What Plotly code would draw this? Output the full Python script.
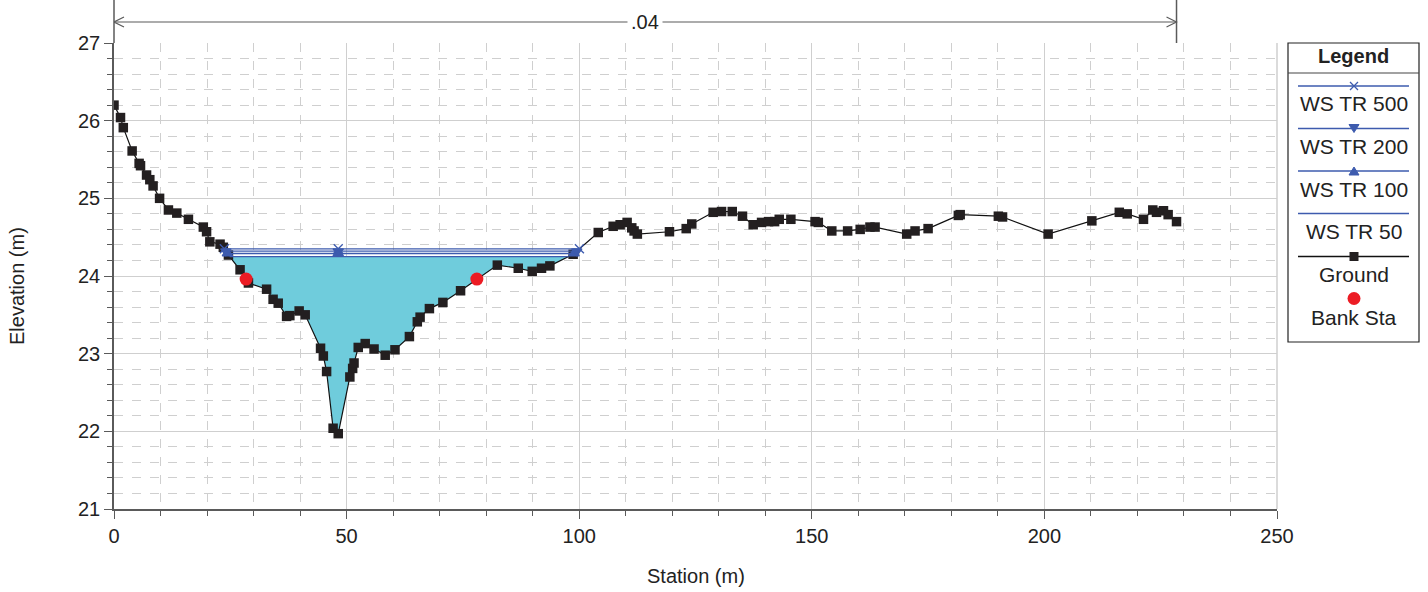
import numpy as np
import plotly.graph_objects as go

# ---------------- data ----------------
ground_x = [0, 1.4, 2.0, 3.9, 5.4, 5.7, 7.0, 7.7, 8.4, 9.8,
            11.7, 13.5, 16.0, 19.2, 19.9, 20.6, 22.8, 23.5, 24.6, 27.1,
            28.9, 32.8, 34.2, 35.3, 37.1, 37.8, 39.8, 41.1, 44.4, 45.0,
            45.7, 47.1, 48.2, 50.7, 51.3, 51.6, 52.5, 54.0, 55.9, 58.3,
            60.4, 63.5, 65.2, 65.8, 67.8, 70.7, 74.5, 82.4, 86.9, 89.9,
            91.9, 93.7, 98.7, 104.1, 107.3, 108.8, 110.3, 111.3, 111.8, 112.5,
            119.4, 123.0, 124.2, 128.8, 130.6, 132.9, 135.1, 137.4, 139.2, 140.7,
            142.0, 143.0, 145.5, 150.7, 151.4, 154.3, 157.7, 160.4, 162.5, 163.6,
            170.4, 172.2, 175.0, 181.5, 181.9, 190.1, 191.0, 200.8, 210.2, 216.1,
            217.8, 221.3, 223.3, 224.1, 225.6, 226.6, 228.4]
ground_y = [26.20, 26.04, 25.91, 25.61, 25.45, 25.42, 25.30, 25.24, 25.16, 25.00,
            24.85, 24.81, 24.73, 24.63, 24.57, 24.44, 24.41, 24.37, 24.27, 24.08,
            23.91, 23.83, 23.70, 23.65, 23.48, 23.49, 23.55, 23.50, 23.07, 22.97,
            22.77, 22.04, 21.97, 22.70, 22.81, 22.88, 23.08, 23.13, 23.06, 22.98,
            23.05, 23.22, 23.41, 23.47, 23.58, 23.66, 23.81, 24.14, 24.10, 24.06,
            24.10, 24.13, 24.28, 24.56, 24.64, 24.66, 24.69, 24.62, 24.58, 24.54,
            24.57, 24.61, 24.67, 24.82, 24.83, 24.83, 24.77, 24.66, 24.69, 24.70,
            24.70, 24.73, 24.73, 24.70, 24.69, 24.58, 24.58, 24.60, 24.63, 24.63,
            24.54, 24.58, 24.61, 24.78, 24.79, 24.77, 24.76, 24.54, 24.71, 24.82,
            24.80, 24.73, 24.85, 24.82, 24.84, 24.79, 24.70]

bank_x = [28.4, 78.0]
bank_y = [23.96, 23.96]

ws_names = ["WS TR 500", "WS TR 200", "WS TR 100", "WS TR 50"]
ws_elev = [24.35, 24.32, 24.29, 24.25]
ws_symbols = ["x-thin-open", "triangle-down", "triangle-up", None]

n_value_label = ".04"

x_ticks = [0, 50, 100, 150, 200, 250]
y_ticks = [21, 22, 23, 24, 25, 26, 27]

# ---------------- helpers ----------------
gx = np.array(ground_x)
gy = np.array(ground_y)
i_min = int(np.argmin(gy))


def crossings(h):
    xl = gx[0]
    for i in range(i_min, 0, -1):
        if gy[i - 1] >= h > gy[i]:
            t = (gy[i - 1] - h) / (gy[i - 1] - gy[i])
            xl = gx[i - 1] + t * (gx[i] - gx[i - 1])
            break
    xr = gx[-1]
    for j in range(i_min, len(gx) - 1):
        if gy[j] < h <= gy[j + 1]:
            t = (h - gy[j]) / (gy[j + 1] - gy[j])
            xr = gx[j] + t * (gx[j + 1] - gx[j])
            break
    return xl, xr


BLUE = "#3D5BAE"
FONT = "Arial, Liberation Sans, sans-serif"

fig = go.Figure()

# water fill (lowest profile)
h50 = ws_elev[-1]
xl50, xr50 = crossings(h50)
mask = (gx > xl50) & (gx < xr50)
fx = [xl50] + list(gx[mask]) + [xr50, xl50]
fy = [h50] + list(gy[mask]) + [h50, h50]
fig.add_trace(go.Scatter(x=fx, y=fy, mode="lines", fill="toself",
                         fillcolor="#6FCCDC", line=dict(width=0),
                         hoverinfo="skip", showlegend=False))

# ground
fig.add_trace(go.Scatter(x=ground_x, y=ground_y, mode="lines+markers", name="Ground",
                         line=dict(color="#111111", width=1.2),
                         marker=dict(symbol="square", size=9.5, color="#231F20"),
                         showlegend=False))

# WS lines (drawn over the ground, lowest last)
for name, h, sym in reversed(list(zip(ws_names, ws_elev, ws_symbols))):
    xl, xr = crossings(h)
    xs = [xl, gx[i_min], xr]
    ys = [h, h, h]
    if sym:
        fig.add_trace(go.Scatter(x=xs, y=ys, mode="lines+markers", name=name,
                                 line=dict(color=BLUE, width=1.3),
                                 marker=dict(symbol=sym, size=9, color=BLUE,
                                             line=dict(color=BLUE, width=1.3)),
                                 showlegend=False))
    else:
        fig.add_trace(go.Scatter(x=xs, y=ys, mode="lines", name=name,
                                 line=dict(color=BLUE, width=1.3),
                                 showlegend=False))

# bank stations
fig.add_trace(go.Scatter(x=bank_x, y=bank_y, mode="markers", name="Bank Sta",
                         marker=dict(symbol="circle", size=13, color="#EC1C24"),
                         showlegend=False))

# ---------------- layout ----------------
W, H = 1428, 592
L, R, T, B = 114, 151, 43, 83
PW, PH = W - L - R, H - T - B


def px(xp):
    return (xp - L) / PW


def py(yp):
    return (H - B - yp) / PH


GRID = "#CFCFCF"
AX = "#5A5A5A"

fig.update_layout(
    width=W, height=H,
    margin=dict(l=L, r=R, t=T, b=B),
    paper_bgcolor="white", plot_bgcolor="white",
    font=dict(family=FONT, color="#222222", size=20),
    xaxis=dict(range=[0, 250], tickvals=x_ticks, ticks="outside", ticklen=8,
               tickcolor=AX, showline=True, linecolor=AX, linewidth=1.5,
               showgrid=True, gridcolor=GRID, gridwidth=1, zeroline=False,
               tickfont=dict(size=20),
               minor=dict(dtick=10, ticks="outside", ticklen=5, tickcolor=AX,
                          showgrid=True, gridcolor=GRID, griddash="dash", gridwidth=1)),
    yaxis=dict(range=[21, 27], tickvals=y_ticks, ticks="outside", ticklen=8,
               tickcolor=AX, showline=True, linecolor=AX, linewidth=1.5,
               showgrid=True, gridcolor=GRID, gridwidth=1, zeroline=False,
               tickfont=dict(size=20),
               minor=dict(dtick=0.2, ticks="outside", ticklen=5, tickcolor=AX,
                          showgrid=True, gridcolor=GRID, griddash="dash", gridwidth=1)),
    showlegend=False,
)

shapes = []
annotations = []

# right plot border (light)
shapes.append(dict(type="line", xref="paper", yref="paper", x0=1, x1=1, y0=0, y1=1,
                   line=dict(color=GRID, width=1.5)))
# y axis extended upward
shapes.append(dict(type="line", xref="paper", yref="paper", x0=0, x1=0, y0=1, y1=py(0),
                   line=dict(color=AX, width=1.5)))
# vertical tick at end of reach
x_end = ground_x[-1]
shapes.append(dict(type="line", xref="x", yref="paper", x0=x_end, x1=x_end, y0=1, y1=py(0),
                   line=dict(color=AX, width=1.5)))
# n-value dimension line
ya = py(22)
shapes.append(dict(type="line", xref="x", yref="paper", x0=0, x1=x_end, y0=ya, y1=ya,
                   line=dict(color=AX, width=1.2)))
dx = 10 / (PW / 250)
dy = 5 / PH
shapes.append(dict(type="path", xref="x", yref="paper",
                   path=f"M {dx},{ya+dy} L 0,{ya} L {dx},{ya-dy}",
                   line=dict(color=AX, width=1.2)))
shapes.append(dict(type="path", xref="x", yref="paper",
                   path=f"M {x_end-dx},{ya+dy} L {x_end},{ya} L {x_end-dx},{ya-dy}",
                   line=dict(color=AX, width=1.2)))
annotations.append(dict(x=x_end / 2, y=ya, xref="x", yref="paper", text=n_value_label,
                        showarrow=False, bgcolor="white", font=dict(size=20),
                        xanchor="center", yanchor="middle", borderpad=3))

# axis titles
annotations.append(dict(x=px(696), y=py(576), xref="paper", yref="paper", text="Station (m)",
                        showarrow=False, font=dict(size=20), xanchor="center", yanchor="middle"))
annotations.append(dict(x=px(17), y=py(286), xref="paper", yref="paper", text="Elevation (m)",
                        showarrow=False, font=dict(size=20), textangle=-90,
                        xanchor="center", yanchor="middle"))

# ---------------- custom legend ----------------
bx0, bx1, by0, by1 = 1288, 1419, 43, 342
shapes.append(dict(type="rect", xref="paper", yref="paper", x0=px(bx0), x1=px(bx1),
                   y0=py(by1), y1=py(by0), line=dict(color="#222222", width=1.2),
                   fillcolor="white"))
shapes.append(dict(type="line", xref="paper", yref="paper", x0=px(bx0), x1=px(bx1),
                   y0=py(73), y1=py(73), line=dict(color="#444444", width=1.2)))
annotations.append(dict(x=px((bx0 + bx1) / 2), y=py(56), xref="paper", yref="paper",
                        text="<b>Legend</b>", showarrow=False, font=dict(size=20),
                        xanchor="center", yanchor="middle"))

lx0, lx1, lxc = 1298, 1409, 1354
leg_line_y = [86, 128.5, 171, 213.5, 256.5]
leg_text_y = [103.5, 146.5, 189, 231.5, 274.5, 317]
leg_labels = ws_names + ["Ground", "Bank Sta"]
for k in range(5):
    col = BLUE if k < 4 else "#111111"
    shapes.append(dict(type="line", xref="paper", yref="paper", x0=px(lx0), x1=px(lx1),
                       y0=py(leg_line_y[k]), y1=py(leg_line_y[k]),
                       line=dict(color=col, width=1.5)))
for k, lab in enumerate(leg_labels):
    annotations.append(dict(x=px(lxc), y=py(leg_text_y[k]), xref="paper", yref="paper",
                            text=lab, showarrow=False, font=dict(size=21),
                            xanchor="center", yanchor="middle"))

# legend symbols
s = 4
yk = leg_line_y[0]
shapes.append(dict(type="path", xref="paper", yref="paper",
                   path=f"M {px(lxc-s)},{py(yk-s)} L {px(lxc+s)},{py(yk+s)} M {px(lxc-s)},{py(yk+s)} L {px(lxc+s)},{py(yk-s)}",
                   line=dict(color=BLUE, width=1.3)))
yk = leg_line_y[1]
shapes.append(dict(type="path", xref="paper", yref="paper",
                   path=f"M {px(lxc-5)},{py(yk-4)} L {px(lxc+5)},{py(yk-4)} L {px(lxc)},{py(yk+4)} Z",
                   fillcolor=BLUE, line=dict(color=BLUE, width=1)))
yk = leg_line_y[2]
shapes.append(dict(type="path", xref="paper", yref="paper",
                   path=f"M {px(lxc-5)},{py(yk+4)} L {px(lxc+5)},{py(yk+4)} L {px(lxc)},{py(yk-4)} Z",
                   fillcolor=BLUE, line=dict(color=BLUE, width=1)))
yk = leg_line_y[4]
shapes.append(dict(type="rect", xref="paper", yref="paper", x0=px(lxc - 4.5), x1=px(lxc + 4.5),
                   y0=py(yk + 4.5), y1=py(yk - 4.5), fillcolor="#231F20",
                   line=dict(color="#231F20", width=0)))
yk = 298.5
shapes.append(dict(type="circle", xref="paper", yref="paper", x0=px(lxc - 6.5), x1=px(lxc + 6.5),
                   y0=py(yk + 6.5), y1=py(yk - 6.5), fillcolor="#EC1C24",
                   line=dict(color="#EC1C24", width=0)))

fig.update_layout(shapes=shapes, annotations=annotations)

fig.write_html("out.html", config={"displayModeBar": False},
               post_script="document.body.style.margin='0';")
